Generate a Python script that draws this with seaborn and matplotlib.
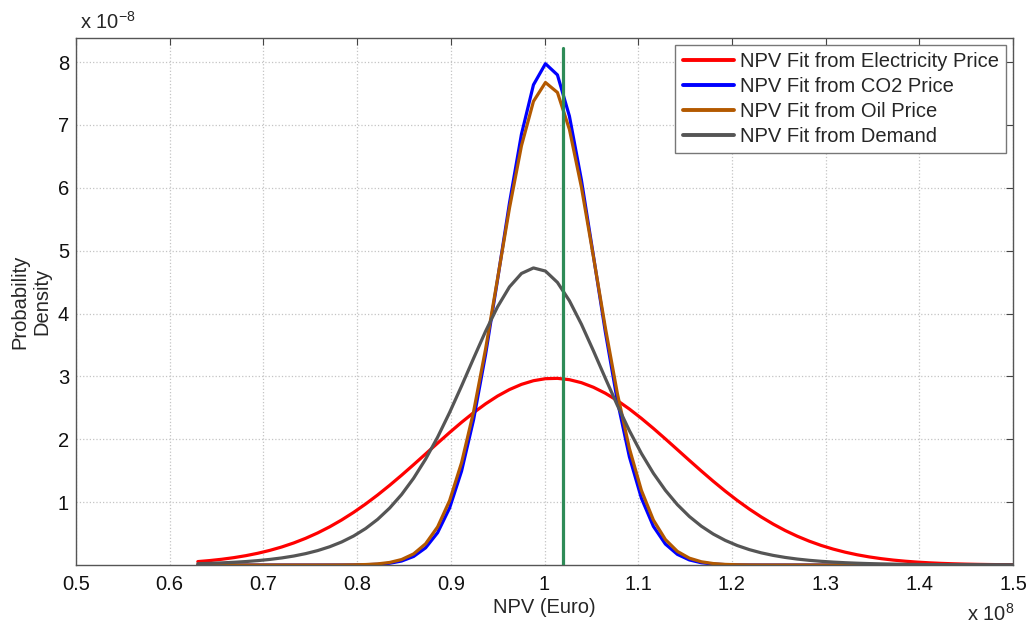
import matplotlib
matplotlib.use("Agg")
import matplotlib.pyplot as plt
import seaborn as sns
import pandas as pd
from matplotlib.ticker import FuncFormatter

# ---------------- data (x in 1e8 Euro, density in 1e-8) ----------------
npv = [0.6300, 0.6428, 0.6556, 0.6684, 0.6812, 0.6940, 0.7068, 0.7196, 0.7324, 0.7451,
       0.7579, 0.7707, 0.7835, 0.7963, 0.8091, 0.8219, 0.8347, 0.8475, 0.8603, 0.8731,
       0.8859, 0.8987, 0.9115, 0.9243, 0.9371, 0.9499, 0.9626, 0.9754, 0.9882, 1.0010,
       1.0138, 1.0266, 1.0394, 1.0522, 1.0650, 1.0778, 1.0906, 1.1034, 1.1162, 1.1290,
       1.1418, 1.1546, 1.1674, 1.1801, 1.1929, 1.2057, 1.2185, 1.2313, 1.2441, 1.2569,
       1.2697, 1.2825, 1.2953, 1.3081, 1.3209, 1.3337, 1.3465, 1.3593, 1.3721, 1.3849,
       1.3976, 1.4104, 1.4232, 1.4360, 1.4488, 1.4616, 1.4744, 1.4872, 1.5000]

electricity = [0.0542, 0.0707, 0.0913, 0.1169, 0.1483, 0.1865, 0.2323, 0.2868, 0.3508, 0.4247,
               0.5100, 0.6071, 0.7164, 0.8375, 0.9703, 1.1138, 1.2670, 1.4283, 1.5958, 1.7666,
               1.9379, 2.1069, 2.2697, 2.4229, 2.5631, 2.6870, 2.7906, 2.8729, 2.9311, 2.9633,
               2.9688, 2.9474, 2.8997, 2.8269, 2.7312, 2.6148, 2.4806, 2.3320, 2.1726, 2.0056,
               1.8349, 1.6635, 1.4945, 1.3317, 1.1749, 1.0273, 0.8901, 0.7642, 0.6501, 0.5480,
               0.4580, 0.3793, 0.3110, 0.2529, 0.2037, 0.1626, 0.1287, 0.1009, 0.0784, 0.0604,
               0.0461, 0.0349, 0.0261, 0.0194, 0.0143, 0.0104, 0.0075, 0.0054, 0.0038]

co2 = [0.0, 0.0, 0.0, 0.0, 0.0, 0.0, 0.0, 0.0, 0.0, 0.0,
       0.0, 0.0002, 0.0005, 0.0015, 0.0043, 0.0113, 0.0276, 0.0633, 0.1359, 0.2731,
       0.514, 0.906, 1.495, 2.311, 3.348, 4.540, 5.757, 6.852, 7.637, 7.973,
       7.795, 7.138, 6.122, 4.917, 3.699, 2.606, 1.720, 1.063, 0.615, 0.3335,
       0.1693, 0.0805, 0.0358, 0.0151, 0.0059, 0.0022, 0.0007, 0.0002, 0.0001, 0.0,
       0.0, 0.0, 0.0, 0.0, 0.0, 0.0, 0.0, 0.0, 0.0, 0.0,
       0.0, 0.0, 0.0, 0.0, 0.0, 0.0, 0.0, 0.0, 0.0]

oil = [0.0, 0.0, 0.0, 0.0, 0.0, 0.0, 0.0, 0.0, 0.0, 0.0,
       0.0, 0.0003, 0.0010, 0.0028, 0.0072, 0.0176, 0.0404, 0.0870, 0.1767, 0.3372,
       0.6057, 1.0237, 1.628, 2.438, 3.435, 4.555, 5.676, 6.668, 7.374, 7.674,
       7.516, 6.927, 6.008, 4.904, 3.768, 2.724, 1.853, 1.187, 0.715, 0.4054,
       0.2164, 0.1087, 0.0513, 0.0230, 0.0096, 0.0038, 0.0014, 0.0005, 0.0002, 0.0001,
       0.0, 0.0, 0.0, 0.0, 0.0, 0.0, 0.0, 0.0, 0.0, 0.0,
       0.0, 0.0, 0.0, 0.0, 0.0, 0.0, 0.0, 0.0, 0.0]

demand = [0.0209, 0.0266, 0.0339, 0.0431, 0.0548, 0.0697, 0.0887, 0.1125, 0.1428, 0.1810,
          0.2293, 0.2901, 0.3662, 0.4615, 0.5798, 0.7260, 0.9050, 1.1215, 1.3800, 1.6840,
          2.0330, 2.4250, 2.8480, 3.2870, 3.7170, 4.1070, 4.4230, 4.6370, 4.7247, 4.6750,
          4.4946, 4.2026, 3.8290, 3.4067, 2.9680, 2.5380, 2.1367, 1.7750, 1.4588, 1.1880,
          0.9601, 0.7713, 0.6170, 0.4924, 0.3911, 0.3098, 0.2450, 0.1935, 0.1526, 0.1202,
          0.0946, 0.0745, 0.0586, 0.0461, 0.0362, 0.0285, 0.0224, 0.0176, 0.0138, 0.0108,
          0.0085, 0.0067, 0.0052, 0.0041, 0.0032, 0.0025, 0.0020, 0.0016, 0.0012]

series_labels = ["NPV Fit from Electricity Price", "NPV Fit from CO2 Price",
                 "NPV Fit from Oil Price", "NPV Fit from Demand"]
series_values = [electricity, co2, oil, demand]
series_colors = ["#ff0000", "#0000ff", "#b35900", "#555555"]

reference_npv = [1.02, 1.02]      # green vertical marker
reference_span = [0.0, 8.22]

x_ticks = [0.5, 0.6, 0.7, 0.8, 0.9, 1.0, 1.1, 1.2, 1.3, 1.4, 1.5]
y_ticks = [1, 2, 3, 4, 5, 6, 7, 8]

# ---------------- style ----------------
sns.set_theme(style="white")
plt.rcParams["font.family"] = ["Liberation Sans", "DejaVu Sans"]
plt.rcParams["mathtext.default"] = "regular"

FS = 14.5

fig = plt.figure(figsize=(10.30, 6.25), dpi=100)
ax = fig.add_axes([0.0738, 0.096, 0.9097, 0.843])

for lab, vals, col in zip(series_labels, series_values, series_colors):
    df = pd.DataFrame({"npv": npv, "density": vals})
    sns.lineplot(data=df, x="npv", y="density", color=col, linewidth=2.3,
                 label=lab, ax=ax, sort=False, estimator=None)

sns.lineplot(x=reference_npv, y=reference_span, color="#2e8b57", linewidth=2.3,
             ax=ax, sort=False, estimator=None, legend=False, zorder=5)

ax.set_xlim(0.5, 1.5)
ax.set_ylim(0, 8.38)
ax.set_xticks(x_ticks)
ax.set_yticks(y_ticks)
ax.xaxis.set_major_formatter(FuncFormatter(lambda v, p: "%g" % round(v, 2)))
ax.yaxis.set_major_formatter(FuncFormatter(lambda v, p: "%g" % v))

ax.grid(True, linestyle=":", color="#c4c4c4", linewidth=0.9)
ax.tick_params(direction="in", length=5, width=0.8, color="#444444",
               top=True, right=True, labelsize=FS, labelcolor="#111111")
ax.tick_params(axis="y", pad=5)
ax.tick_params(axis="x", pad=7)
for s in ax.spines.values():
    s.set_color("#555555")
    s.set_linewidth(1.0)

ax.set_xlabel("NPV (Euro)", fontsize=FS, labelpad=3)
ax.set_ylabel("Probability\nDensity", fontsize=FS, labelpad=5, linespacing=1.2)

fig.text(0.078, 0.965, r"x 10$^{-8}$", fontsize=FS, ha="left", va="center")
fig.text(0.985, 0.018, r"x 10$^{8}$", fontsize=FS, ha="right", va="center")

leg = ax.legend(loc="upper right", fontsize=FS, frameon=True, fancybox=False,
                edgecolor="#777777", framealpha=1, borderaxespad=0.35,
                handlelength=2.55, handletextpad=0.3, labelspacing=0.29,
                borderpad=0.35)
leg.get_frame().set_linewidth(1.0)
for h in leg.get_lines():
    h.set_linewidth(2.8)

fig.savefig("out.png", dpi=100)
